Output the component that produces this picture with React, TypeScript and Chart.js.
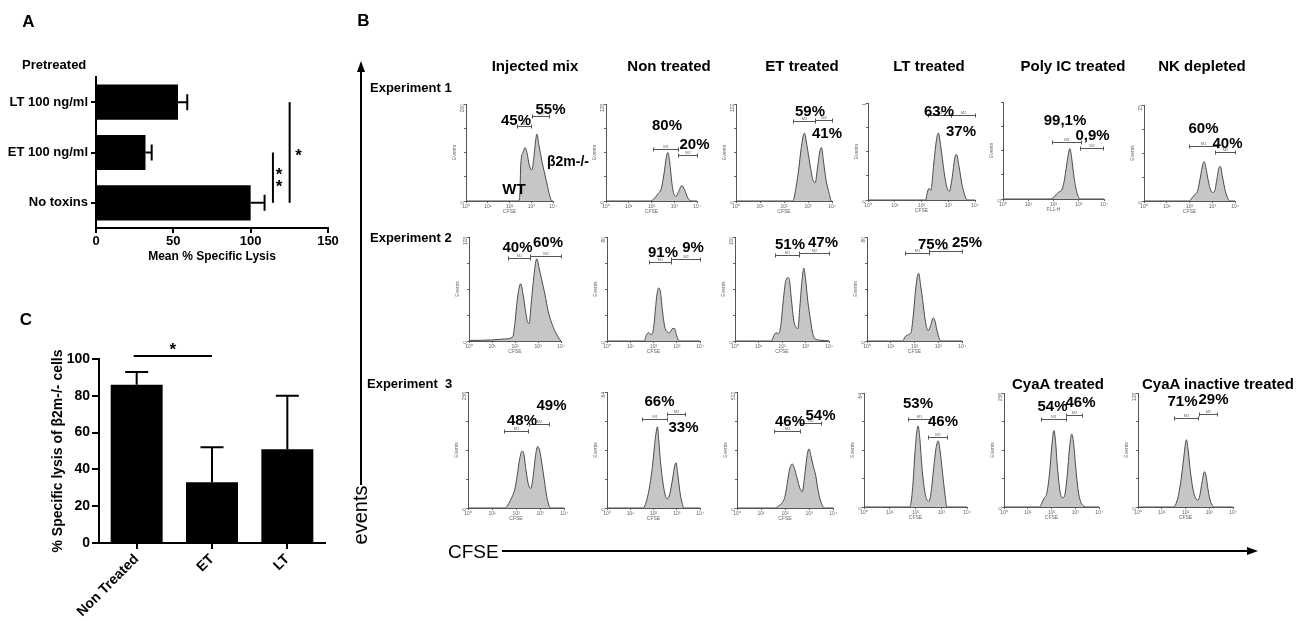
import React, { useEffect, useRef } from "react";
import { Chart, registerables } from "chart.js";
Chart.register(...registerables);

const FONT = "'Liberation Sans', Arial, Helvetica, sans-serif";
Chart.defaults.font.family = FONT;
Chart.defaults.color = "#000";

// ---------- Panel A data ----------
const aCategories = ["LT 100 ng/ml", "ET 100 ng/ml", "No toxins"];
const aMeans = [53, 32, 100];
const aErrors = [6, 4, 9];
const aSignif = [
  { from: 1, to: 2, at: 114.4, stars: "**" },
  { from: 0, to: 2, at: 125.2, stars: "*" },
];

// ---------- Panel C data ----------
const cCategories = ["Non Treated", "ET", "LT"];
const cMeans = [86, 33, 51];
const cErrors = [7, 19, 29];
const cSignif = [{ from: 0, to: 1, at: 101.6, stars: "*" }];

// ---------- Panel B histograms: [log10 CFSE, % of axis max] ----------
type Pt = [number, number];
const exp1Injected: Pt[] = [[0,0],[2.4,0],[2.47,5],[2.52,38],[2.62,50],[2.72,55],[2.8,50],[2.92,36],[3.03,32],[3.12,45],[3.2,62],[3.26,69],[3.35,58],[3.5,40],[3.6,30],[3.75,15],[3.88,3],[3.95,0],[4,0]];
const exp1NonTreated: Pt[] = [[0,0],[1.95,0],[2.1,2],[2.3,8],[2.42,12],[2.55,28],[2.65,45],[2.72,50],[2.8,40],[2.9,18],[3.0,6],[3.08,5],[3.2,10],[3.33,16],[3.45,12],[3.6,3],[3.8,0],[4,0]];
const exp1ET: Pt[] = [[0,0],[2.35,0],[2.42,3],[2.5,14],[2.6,30],[2.72,55],[2.85,70],[2.95,58],[3.08,38],[3.2,22],[3.3,19],[3.4,35],[3.5,52],[3.56,55],[3.65,40],[3.75,22],[3.88,8],[3.98,0],[4,0]];
const exp1LT: Pt[] = [[0,0],[2.15,0],[2.22,8],[2.28,12],[2.35,10],[2.45,35],[2.55,60],[2.63,69],[2.72,55],[2.85,28],[2.95,13],[3.04,9],[3.14,22],[3.25,44],[3.31,47],[3.4,35],[3.52,15],[3.62,5],[3.7,0],[4,0]];
const exp1PolyIC: Pt[] = [[0,0],[1.9,0],[2.05,3],[2.2,7],[2.32,9],[2.42,18],[2.52,35],[2.6,48],[2.65,52],[2.72,42],[2.8,25],[2.88,12],[2.96,4],[3.05,0],[4,0]];
const exp1NK: Pt[] = [[0,0],[2.0,0],[2.1,3],[2.25,7],[2.35,10],[2.48,25],[2.58,38],[2.65,41],[2.74,32],[2.88,15],[3.0,9],[3.1,10],[3.2,22],[3.3,35],[3.36,36],[3.45,25],[3.58,10],[3.7,2],[3.78,0],[4,0]];
const exp2Injected: Pt[] = [[0,0.5],[1,1],[1.6,2],[1.9,4],[2.0,18],[2.1,40],[2.2,53],[2.25,55],[2.35,45],[2.45,30],[2.55,18],[2.62,17],[2.7,35],[2.8,58],[2.9,76],[2.95,79],[3.05,70],[3.15,60],[3.3,45],[3.45,28],[3.6,17],[3.75,9],[3.9,3],[4.0,0]];
const exp2NonTreated: Pt[] = [[0,0],[1.6,0],[1.7,6],[1.8,8],[1.9,6],[2.0,12],[2.08,30],[2.15,45],[2.22,51],[2.3,47],[2.38,30],[2.48,14],[2.58,9],[2.7,8],[2.82,12],[2.9,12],[3.0,5],[3.1,0],[4,0]];
const exp2ET: Pt[] = [[0,0],[1.55,0],[1.65,5],[1.75,8],[1.85,7],[1.95,15],[2.05,38],[2.15,57],[2.25,61],[2.32,58],[2.4,40],[2.5,20],[2.6,13],[2.68,12],[2.75,30],[2.85,58],[2.93,70],[3.0,60],[3.1,38],[3.2,22],[3.3,8],[3.4,2],[3.8,0.5],[4.0,0]];
const exp2LT: Pt[] = [[0,0],[1.5,0],[1.6,4],[1.72,6],[1.85,8],[1.95,25],[2.05,50],[2.12,62],[2.18,65],[2.25,55],[2.34,40],[2.45,20],[2.57,10],[2.68,15],[2.78,22],[2.84,21],[2.95,10],[3.05,2],[3.12,0],[4,0]];
const exp3Injected: Pt[] = [[0,0],[1.55,0],[1.7,4],[1.82,9],[1.95,16],[2.05,28],[2.15,42],[2.25,49],[2.32,47],[2.42,32],[2.52,20],[2.62,17],[2.72,28],[2.82,46],[2.9,53],[2.98,50],[3.08,38],[3.18,24],[3.28,10],[3.38,2],[3.45,0],[4,0]];
const exp3NonTreated: Pt[] = [[0,0],[1.55,0],[1.65,3],[1.8,15],[1.95,35],[2.05,55],[2.12,66],[2.17,70],[2.22,60],[2.3,40],[2.42,20],[2.52,10],[2.6,8],[2.7,12],[2.82,25],[2.92,37],[2.97,39],[3.05,28],[3.15,12],[3.25,3],[3.3,0],[4,0]];
const exp3ET: Pt[] = [[0,0],[1.6,0],[1.75,2],[1.9,5],[2.0,10],[2.1,22],[2.2,34],[2.3,38],[2.38,35],[2.5,26],[2.62,17],[2.72,14],[2.82,28],[2.92,45],[3.0,51],[3.08,45],[3.18,36],[3.28,28],[3.38,15],[3.5,5],[3.65,0],[4,0]];
const exp3LT: Pt[] = [[0,0],[1.75,0],[1.82,3],[1.9,20],[1.98,48],[2.05,66],[2.1,71],[2.16,62],[2.25,35],[2.35,15],[2.45,6],[2.52,5],[2.6,12],[2.7,33],[2.8,52],[2.88,58],[2.95,50],[3.05,30],[3.15,10],[3.22,0],[4,0]];
const exp3CyaA: Pt[] = [[0,0],[1.5,0],[1.58,3],[1.7,8],[1.8,12],[1.92,30],[2.02,55],[2.1,67],[2.16,60],[2.25,35],[2.35,15],[2.45,8],[2.55,10],[2.65,25],[2.75,50],[2.85,64],[2.92,58],[3.02,35],[3.12,15],[3.22,5],[3.35,1],[3.45,0],[4,0]];
const exp3CyaAInactive: Pt[] = [[0,0],[1.52,0],[1.6,3],[1.7,10],[1.82,25],[1.92,42],[2.0,56],[2.04,59],[2.1,52],[2.2,32],[2.32,15],[2.42,8],[2.52,6],[2.6,10],[2.7,22],[2.8,31],[2.86,28],[2.95,15],[3.05,5],[3.15,1],[3.2,0],[4,0]];

// gates M1/M2: [from log, to log, level %]
const exp1InjectedGates = [[2.33,2.99,77],[3.02,3.83,88]];
const exp1NonTreatedGates = [[2.05,3.15,54],[3.15,4.0,47]];
const exp1ETGates = [[2.36,3.29,82],[3.29,4.0,83]];
const exp1LTGates = [[2.24,3.1,88],[3.1,4.0,88]];
const exp1PolyICGates = [[1.94,3.09,59],[3.05,3.96,53]];
const exp1NKGates = [[1.98,3.21,57],[3.12,4.0,51]];
const exp2InjectedGates = [[1.7,2.65,80],[2.65,4.0,82]];
const exp2NonTreatedGates = [[1.81,2.75,76],[2.75,4.0,79]];
const exp2ETGates = [[1.7,2.72,83],[2.72,4.0,85]];
const exp2LTGates = [[1.6,2.61,85],[2.61,4.0,87]];
const exp3InjectedGates = [[1.5,2.5,66],[2.54,3.38,72]];
const exp3NonTreatedGates = [[1.5,2.58,77],[2.58,3.35,81]];
const exp3ETGates = [[1.54,2.63,66],[2.63,3.5,73]];
const exp3LTGates = [[1.71,2.56,77],[2.49,3.22,61]];
const exp3CyaAGates = [[1.56,2.61,77],[2.61,3.28,81]];
const exp3CyaAInactiveGates = [[1.52,2.53,78],[2.57,3.33,82]];

// percentages (M1, M2)
const exp1Pct = [["45%","55%"],["80%","20%"],["59%","41%"],["63%","37%"],["99,1%","0,9%"],["60%","40%"]];
const exp2Pct = [["40%","60%"],["91%","9%"],["51%","47%"],["75%","25%"]];
const exp3Pct = [["48%","49%"],["66%","33%"],["46%","54%"],["53%","46%"],["54%","46%"],["71%","29%"]];

const columnTitles = ["Injected mix", "Non treated", "ET treated", "LT treated", "Poly IC treated", "NK depleted"];
const row3Titles = ["CyaA treated", "CyaA inactive treated"];
const experimentLabels = ["Experiment 1", "Experiment 2", "Experiment  3"];
const decadeLabels = ["10\u2070", "10\u00b9", "10\u00b2", "10\u00b3", "10\u2074"];

// ---------- layout ----------
type Panel = { data: Pt[]; gates: number[][]; box: number[]; pct: string[]; pctPos: number[][]; top: string; xTitle: string };
const histPanels: Panel[] = [
  { data: exp1Injected, gates: exp1InjectedGates, box: [466,104,87,97], pct: exp1Pct[0], pctPos: [[516,119],[550.5,107.5]], top: "200", xTitle: "CFSE" },
  { data: exp1NonTreated, gates: exp1NonTreatedGates, box: [606,104,91,97], pct: exp1Pct[1], pctPos: [[667,124],[694.5,142.5]], top: "128", xTitle: "CFSE" },
  { data: exp1ET, gates: exp1ETGates, box: [736,104,96,97], pct: exp1Pct[2], pctPos: [[810,110],[827,132]], top: "122", xTitle: "CFSE" },
  { data: exp1LT, gates: exp1LTGates, box: [868,103,107,97], pct: exp1Pct[3], pctPos: [[939,110],[961,130]], top: "1", xTitle: "CFSE" },
  { data: exp1PolyIC, gates: exp1PolyICGates, box: [1003,102,101,97], pct: exp1Pct[4], pctPos: [[1065,118.5],[1092.5,134]], top: "", xTitle: "FL1-H" },
  { data: exp1NK, gates: exp1NKGates, box: [1144,105,91,96], pct: exp1Pct[5], pctPos: [[1203.5,126.5],[1227.5,141.5]], top: "25", xTitle: "CFSE" },
  { data: exp2Injected, gates: exp2InjectedGates, box: [469,237,92,104], pct: exp2Pct[0], pctPos: [[517.5,246],[548,241]], top: "128", xTitle: "CFSE" },
  { data: exp2NonTreated, gates: exp2NonTreatedGates, box: [607,237,93,104], pct: exp2Pct[1], pctPos: [[663,251],[693,246]], top: "80", xTitle: "CFSE" },
  { data: exp2ET, gates: exp2ETGates, box: [735,237,94,104], pct: exp2Pct[2], pctPos: [[790,242.5],[823,241]], top: "100", xTitle: "CFSE" },
  { data: exp2LT, gates: exp2LTGates, box: [867,237,95,104], pct: exp2Pct[3], pctPos: [[933,242.5],[967,241]], top: "80", xTitle: "CFSE" },
  { data: exp3Injected, gates: exp3InjectedGates, box: [468,392,96,116], pct: exp3Pct[0], pctPos: [[522,419],[551.5,404]], top: "256", xTitle: "CFSE" },
  { data: exp3NonTreated, gates: exp3NonTreatedGates, box: [607,392,93,116], pct: exp3Pct[1], pctPos: [[659.5,400],[683.5,426]], top: "64", xTitle: "CFSE" },
  { data: exp3ET, gates: exp3ETGates, box: [737,392,96,116], pct: exp3Pct[2], pctPos: [[790,420],[820.5,413.5]], top: "512", xTitle: "CFSE" },
  { data: exp3LT, gates: exp3LTGates, box: [864,393,103,114], pct: exp3Pct[3], pctPos: [[918,402],[943,420]], top: "64", xTitle: "CFSE" },
  { data: exp3CyaA, gates: exp3CyaAGates, box: [1004,393,95,114], pct: exp3Pct[4], pctPos: [[1052.5,405],[1080.5,401]], top: "256", xTitle: "CFSE" },
  { data: exp3CyaAInactive, gates: exp3CyaAInactiveGates, box: [1138,393,95,114], pct: exp3Pct[5], pctPos: [[1182.5,400],[1213.5,397.5]], top: "128", xTitle: "CFSE" },
];
const columnTitleX = [535, 669, 802, 929, 1073, 1202];

function drawStars(ctx: CanvasRenderingContext2D, stars: string, x: number, yMid: number, size: number, vertical: boolean) {
  ctx.save();
  ctx.fillStyle = "#000";
  ctx.font = `bold ${size}px ${FONT}`;
  ctx.textAlign = "center";
  ctx.textBaseline = "top";
  const n = stars.length;
  for (let i = 0; i < n; i++) {
    const off = (i - (n - 1) / 2) * 12;
    if (vertical) ctx.fillText("*", x, yMid + off - size * 0.3);
    else ctx.fillText("*", x + off * 0.6, yMid - size * 0.3);
  }
  ctx.restore();
}

function PanelA() {
  const ref = useRef<HTMLCanvasElement>(null);
  useEffect(() => {
    const errPlugin = {
      id: "aErr",
      afterDatasetsDraw(chart: any) {
        const { ctx, scales: { x, y } } = chart;
        ctx.save();
        ctx.strokeStyle = "#000";
        ctx.lineWidth = 2;
        aMeans.forEach((m, i) => {
          const yc = y.getPixelForValue(i);
          const x0 = x.getPixelForValue(m);
          const x1 = x.getPixelForValue(m + aErrors[i]);
          ctx.beginPath();
          ctx.moveTo(x0, yc); ctx.lineTo(x1, yc);
          ctx.moveTo(x1, yc - 8); ctx.lineTo(x1, yc + 8);
          ctx.stroke();
        });
        aSignif.forEach((s) => {
          const px = x.getPixelForValue(s.at);
          const y1 = y.getPixelForValue(s.from);
          const y2 = y.getPixelForValue(s.to);
          ctx.beginPath(); ctx.moveTo(px, y1); ctx.lineTo(px, y2); ctx.stroke();
          drawStars(ctx, s.stars, px + (s.stars.length > 1 ? 6 : 9), (y1 + y2) / 2, 17, true);
        });
        ctx.restore();
      },
    };
    const chart = new Chart(ref.current!, {
      type: "bar",
      data: { labels: aCategories, datasets: [{ data: aMeans, backgroundColor: "#000", barPercentage: 0.7, categoryPercentage: 1 }] },
      options: {
        indexAxis: "y", responsive: false, animation: false,
        layout: { padding: { top: 77, right: 17, left: 0, bottom: 0 } },
        plugins: { legend: { display: false }, tooltip: { enabled: false } },
        scales: {
          x: {
            min: 0, max: 150,
            afterFit: (s: any) => { s.height = 42; },
            ticks: { stepSize: 50, color: "#000", font: { size: 13, weight: "bold" }, padding: 1 },
            grid: { drawOnChartArea: false, tickLength: 5, color: "#000", lineWidth: 2 },
            border: { color: "#000", width: 2 },
            title: { display: true, text: "Mean % Specific Lysis", color: "#000", font: { size: 12, weight: "bold" }, padding: { top: 0, bottom: 6 } },
          },
          y: {
            afterFit: (s: any) => { s.width = 96; },
            ticks: { color: "#000", font: { size: 13, weight: "bold" }, padding: 3 },
            grid: { offset: false, drawOnChartArea: false, tickLength: 5, color: "#000", lineWidth: 2 },
            border: { color: "#000", width: 2 },
          },
        },
      } as any,
      plugins: [errPlugin],
    });
    return () => chart.destroy();
  }, []);
  return <canvas ref={ref} width={345} height={270} style={{ position: "absolute", left: 0, top: 0 }} />;
}

function PanelC() {
  const ref = useRef<HTMLCanvasElement>(null);
  useEffect(() => {
    const errPlugin = {
      id: "cErr",
      afterDatasetsDraw(chart: any) {
        const { ctx, scales: { x, y } } = chart;
        ctx.save();
        ctx.strokeStyle = "#000";
        ctx.lineWidth = 2;
        cMeans.forEach((m, i) => {
          const xc = x.getPixelForValue(i);
          const y0 = y.getPixelForValue(m);
          const y1 = y.getPixelForValue(m + cErrors[i]);
          ctx.beginPath();
          ctx.moveTo(xc, y0); ctx.lineTo(xc, y1);
          ctx.moveTo(xc - 11.5, y1); ctx.lineTo(xc + 11.5, y1);
          ctx.stroke();
        });
        cSignif.forEach((s) => {
          const py = y.getPixelForValue(s.at);
          const x1 = x.getPixelForValue(s.from) - 3;
          const x2 = x.getPixelForValue(s.to);
          ctx.beginPath(); ctx.moveTo(x1, py); ctx.lineTo(x2, py); ctx.stroke();
          drawStars(ctx, s.stars, (x1 + x2) / 2, py - 9, 17, false);
        });
        ctx.restore();
      },
    };
    const chart = new Chart(ref.current!, {
      type: "bar",
      data: { labels: cCategories, datasets: [{ data: cMeans, backgroundColor: "#000", barPercentage: 0.69, categoryPercentage: 1 }] },
      options: {
        responsive: false, animation: false,
        layout: { padding: { top: 59, right: 20, left: 0, bottom: 0 } },
        plugins: { legend: { display: false }, tooltip: { enabled: false } },
        scales: {
          x: {
            afterFit: (s: any) => { s.height = 78; },
            ticks: { color: "#000", font: { size: 14, weight: "bold" }, padding: 2, minRotation: 45, maxRotation: 45, autoSkip: false },
            grid: { offset: false, drawOnChartArea: false, tickLength: 6, color: "#000", lineWidth: 2 },
            border: { color: "#000", width: 2 },
          },
          y: {
            min: 0, max: 100,
            afterFit: (s: any) => { s.width = 99; },
            ticks: { stepSize: 20, color: "#000", font: { size: 14, weight: "bold" }, padding: 2 },
            grid: { drawOnChartArea: false, tickLength: 7, color: "#000", lineWidth: 2 },
            border: { color: "#000", width: 2 },
            title: { display: true, text: "% Specific lysis of \u03b22m-/- cells", color: "#000", font: { size: 14, weight: "bold" }, padding: { top: 50, bottom: 0 } },
          },
        },
      } as any,
      plugins: [errPlugin],
    });
    return () => chart.destroy();
  }, []);
  return <canvas ref={ref} width={345} height={321} style={{ position: "absolute", left: 0, top: 300 }} />;
}

function Hist({ p }: { p: Panel }) {
  const ref = useRef<HTMLCanvasElement>(null);
  const [L, T, W, H] = p.box;
  const padL = 22, padT = 45, padR = 8, padB = 22;
  useEffect(() => {
    const gatePlugin = {
      id: "gates",
      afterDatasetsDraw(chart: any) {
        const { ctx, scales: { x, y } } = chart;
        ctx.save();
        ctx.strokeStyle = "#555";
        ctx.fillStyle = "#666";
        ctx.lineWidth = 1;
        ctx.font = `4px ${FONT}`;
        ctx.textAlign = "center";
        ctx.textBaseline = "bottom";
        p.gates.forEach(([g1, g2, lv], i) => {
          const px1 = Math.round(x.getPixelForValue(g1)) + 0.5;
          const px2 = Math.round(x.getPixelForValue(g2)) + 0.5;
          const py = Math.round(y.getPixelForValue(lv)) + 0.5;
          ctx.beginPath();
          ctx.moveTo(px1, py); ctx.lineTo(px2, py);
          ctx.moveTo(px1, py - 2); ctx.lineTo(px1, py + 2);
          ctx.moveTo(px2, py - 2); ctx.lineTo(px2, py + 2);
          ctx.stroke();
          ctx.fillText("M" + (i + 1), (px1 + px2) / 2, py - 1);
        });
        ctx.restore();
      },
    };
    const chart = new Chart(ref.current!, {
      type: "line",
      data: {
        datasets: [{
          data: p.data.map(([x, y]) => ({ x, y })),
          fill: "origin",
          backgroundColor: "#c6c6c6",
          borderColor: "#4a4a4a",
          borderWidth: 1,
          pointRadius: 0,
          cubicInterpolationMode: "monotone",
        }],
      },
      options: {
        responsive: false, animation: false,
        layout: { padding: { top: padT, right: padR, left: 0, bottom: 0 } },
        plugins: { legend: { display: false }, tooltip: { enabled: false } },
        scales: {
          x: {
            type: "linear", min: 0, max: 4,
            afterFit: (s: any) => { s.height = padB; },
            ticks: { stepSize: 1, color: "#666", font: { size: 5 }, padding: 1, maxRotation: 0, callback: (v: any) => decadeLabels[v] ?? "" },
            grid: { drawOnChartArea: false, tickLength: 2, color: "#666" },
            border: { color: "#555", width: 1 },
            title: { display: true, text: p.xTitle, color: "#666", font: { size: 5 }, padding: { top: 0, bottom: 8 } },
          },
          y: {
            min: 0, max: 100,
            afterFit: (s: any) => { s.width = padL; },
            ticks: { stepSize: 25, color: "#666", font: { size: 5 }, padding: 1, minRotation: 90, maxRotation: 90, callback: (v: any) => (v === 0 ? "0" : v === 100 ? p.top : "") },
            grid: { drawOnChartArea: false, tickLength: 2, color: "#666" },
            border: { color: "#555", width: 1 },
            title: { display: true, text: "Events", color: "#666", font: { size: 5 }, padding: { top: 8, bottom: 0 } },
          },
        },
      } as any,
      plugins: [gatePlugin],
    });
    return () => chart.destroy();
  }, []);
  return <canvas ref={ref} width={W + padL + padR} height={H + padT + padB} style={{ position: "absolute", left: L - padL, top: T - padT }} />;
}

function Txt({ x, y, text, size, bold = true, left = false, rotate = 0 }: any) {
  return (
    <div style={{
      position: "absolute", left: x, top: y,
      transform: `translate(${left ? "0" : "-50%"}, -50%) rotate(${rotate}deg)`,
      font: `${bold ? "bold " : ""}${size}px ${FONT}`, lineHeight: 1, whiteSpace: "pre", color: "#000",
    }}>{text}</div>
  );
}

export default function App() {
  return (
    <div style={{ position: "absolute", left: 0, top: 0, width: 1308, height: 621, background: "#fff", overflow: "hidden" }}>
      <PanelA />
      <PanelC />
      {histPanels.map((p, i) => <Hist key={i} p={p} />)}
      <svg width={1308} height={621} style={{ position: "absolute", left: 0, top: 0 }}>
        <line x1={361} y1={485} x2={361} y2={70} stroke="#000" strokeWidth={2} />
        <polygon points="361,61 357,72 365,72" fill="#000" />
        <line x1={502} y1={551} x2={1249} y2={551} stroke="#000" strokeWidth={2} />
        <polygon points="1258,551 1247,547 1247,555" fill="#000" />
      </svg>
      <Txt x={28.5} y={21} text="A" size={17} />
      <Txt x={363.5} y={20} text="B" size={17} />
      <Txt x={26} y={319} text="C" size={17} />
      <Txt x={22} y={64} text="Pretreated" size={13} left />
      {columnTitles.map((t, i) => <Txt key={t} x={columnTitleX[i]} y={65} text={t} size={15} />)}
      <Txt x={1058} y={383} text={row3Titles[0]} size={15} />
      <Txt x={1218} y={383} text={row3Titles[1]} size={15} />
      <Txt x={370} y={87} text={experimentLabels[0]} size={13} left />
      <Txt x={370} y={237} text={experimentLabels[1]} size={13} left />
      <Txt x={367} y={383} text={experimentLabels[2]} size={13} left />
      {histPanels.map((p, i) => p.pct.map((t, j) => <Txt key={i + "-" + j} x={p.pctPos[j][0]} y={p.pctPos[j][1]} text={t} size={15} />))}
      <Txt x={514} y={188} text="WT" size={15} />
      <Txt x={568} y={161} text={"\u03b22m-/-"} size={14} />
      <Txt x={360} y={515} text="events" size={20} bold={false} rotate={-90} />
      <Txt x={448} y={551} text="CFSE" size={19} bold={false} left />
    </div>
  );
}
